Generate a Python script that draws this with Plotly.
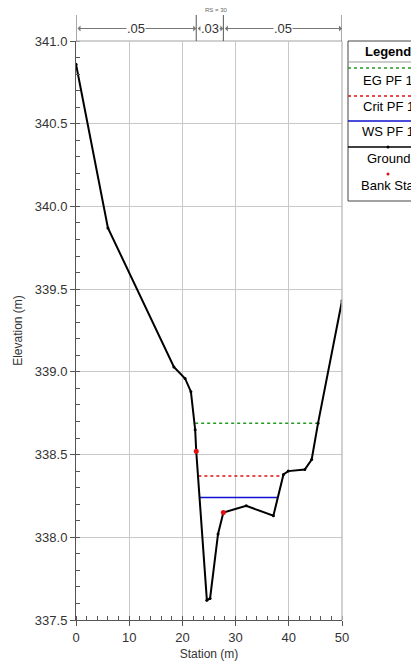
import plotly.graph_objs as go

# Ground profile (station m, elevation m)
ground_sta = [0, 6.0, 18.4, 20.5, 21.6, 22.4, 22.6, 24.6, 25.2, 26.7, 27.7,
              32.0, 37.1, 39.0, 39.9, 43.0, 44.3, 45.5, 50.0]
ground_elev = [340.86, 339.87, 339.03, 338.96, 338.88, 338.65, 338.52, 337.62,
               337.63, 338.02, 338.15, 338.19, 338.13, 338.38, 338.40, 338.41,
               338.47, 338.69, 339.43]

# Water surfaces
eg_sta = [22.4, 45.4]
eg_elev = [338.69, 338.69]
crit_sta = [23.0, 39.0]
crit_elev = [338.37, 338.37]
ws_sta = [23.3, 37.9]
ws_elev = [338.24, 338.24]

# Bank stations
bank_sta = [22.6, 27.7]
bank_elev = [338.52, 338.15]

# Manning's n regions
n_bounds = [0, 22.6, 27.7, 50]
n_labels = [".05", ".03", ".05"]

FONT = "Liberation Sans, Arial, sans-serif"
OFF = 8  # default page margin around the plot div
W, H = 419 - OFF, 670 - 2 * OFF
L, T = 76 - OFF, 41 - OFF
R = W - (342 - OFF)
B = H - (620 - OFF)
PW, PH = W - L - R, H - T - B


def px(xp):
    # screen x pixel -> paper coordinate
    return (xp - OFF - L) / PW


def py(yp):
    # screen y pixel -> paper coordinate
    return (T + PH - (yp - OFF)) / PH


GREEN = "#229a22"
RED = "#e01010"
BLUE = "#1010d0"

fig = go.Figure()

fig.add_trace(go.Scatter(x=eg_sta, y=eg_elev, mode="lines",
                         line=dict(color=GREEN, width=1.5, dash="dot")))
fig.add_trace(go.Scatter(x=crit_sta, y=crit_elev, mode="lines",
                         line=dict(color=RED, width=1.5, dash="dot")))
fig.add_trace(go.Scatter(x=ws_sta, y=ws_elev, mode="lines",
                         line=dict(color=BLUE, width=1.5)))
fig.add_trace(go.Scatter(x=ground_sta, y=ground_elev, mode="lines+markers",
                         line=dict(color="black", width=2),
                         marker=dict(color="black", size=3)))
fig.add_trace(go.Scatter(x=bank_sta, y=bank_elev, mode="markers",
                         marker=dict(color=RED, size=5)))

shapes = []
annotations = []

# frame top / right
shapes.append(dict(type="line", xref="paper", yref="paper", x0=0, x1=1, y0=1, y1=1,
                   line=dict(color="#c0c0c0", width=1.5)))
shapes.append(dict(type="line", xref="paper", yref="paper", x0=1, x1=1, y0=0, y1=1,
                   line=dict(color="#c0c0c0", width=1.5)))

# n-value boundaries above the plot
arrow_y = py(28.5)
for b in n_bounds:
    shapes.append(dict(type="line", xref="x", yref="paper", x0=b, x1=b,
                       y0=1, y1=py(15), line=dict(color="#555555", width=1)))
for i, lab in enumerate(n_labels):
    a, b = n_bounds[i], n_bounds[i + 1]
    annotations.append(dict(xref="x", yref="paper", axref="x", ayref="pixel",
                            x=b, y=arrow_y, ax=a, ay=0, text="",
                            showarrow=True, arrowside="end+start",
                            arrowhead=1, startarrowhead=1, arrowsize=1,
                            arrowwidth=1, arrowcolor="#777777",
                            standoff=0, startstandoff=0))
    annotations.append(dict(xref="x", yref="paper", x=(a + b) / 2, y=arrow_y,
                            text=lab, showarrow=False, bgcolor="white",
                            font=dict(family=FONT, size=13, color="#333333"),
                            borderpad=0, xanchor="center", yanchor="middle"))
annotations.append(dict(xref="x", yref="paper", x=26.4, y=py(10), text="RS = 30",
                        showarrow=False, xanchor="center", yanchor="middle",
                        font=dict(family=FONT, size=6, color="#666666")))

# custom legend
lx0, lx1, lxc = px(348), px(430), px(388)
shapes.append(dict(type="rect", xref="paper", yref="paper", x0=lx0, x1=lx1,
                   y0=py(201), y1=py(41), line=dict(color="#444444", width=1),
                   fillcolor="white"))
shapes.append(dict(type="line", xref="paper", yref="paper", x0=lx0, x1=lx1,
                   y0=py(62), y1=py(62), line=dict(color="#999999", width=1)))
annotations.append(dict(xref="paper", yref="paper", x=lxc, y=py(51), text="<b>Legend</b>",
                        showarrow=False, xanchor="center", yanchor="middle",
                        font=dict(family=FONT, size=13, color="black")))

leg = [("EG PF 1", GREEN, "dot", 68, 80),
       ("Crit PF 1", RED, "dot", 96, 106),
       ("WS PF 1", BLUE, "solid", 121, 131),
       ("Ground", "black", "solid", 147, 158)]
for name, col, dash, ly, ty in leg:
    shapes.append(dict(type="line", xref="paper", yref="paper", x0=lx0, x1=lx1,
                       y0=py(ly), y1=py(ly), line=dict(color=col, width=1.5, dash=dash)))
    annotations.append(dict(xref="paper", yref="paper", x=lxc, y=py(ty), text=name,
                            showarrow=False, xanchor="center", yanchor="middle",
                            font=dict(family=FONT, size=13, color="black")))
shapes.append(dict(type="circle", xref="paper", yref="paper",
                   x0=px(386.5), x1=px(389.5), y0=py(148.5), y1=py(145.5),
                   fillcolor="black", line=dict(width=0)))
shapes.append(dict(type="circle", xref="paper", yref="paper",
                   x0=px(386.5), x1=px(389.5), y0=py(175.5), y1=py(172.5),
                   fillcolor=RED, line=dict(width=0)))
annotations.append(dict(xref="paper", yref="paper", x=lxc, y=py(186), text="Bank Sta",
                        showarrow=False, xanchor="center", yanchor="middle",
                        font=dict(family=FONT, size=13, color="black")))

fig.update_layout(
    width=W, height=H,
    margin=dict(l=L, r=R, t=T, b=B),
    paper_bgcolor="white", plot_bgcolor="white",
    showlegend=False,
    font=dict(family=FONT, color="#333333"),
    shapes=shapes, annotations=annotations,
    xaxis=dict(range=[0, 50], dtick=10, showgrid=True, gridcolor="#c8c8c8",
               automargin=False,
               showline=True, linecolor="#555555", linewidth=1, zeroline=False,
               ticks="outside", ticklen=5, tickcolor="#555555",
               minor=dict(dtick=2, ticks="inside", ticklen=4, tickcolor="#555555"),
               tickfont=dict(size=13, color="#333333"),
               title=dict(text="Station (m)", font=dict(size=12, color="#333333"), standoff=6)),
    yaxis=dict(range=[337.5, 341.0], dtick=0.5, tickformat=".1f", showgrid=True,
               gridcolor="#c8c8c8", automargin=False,
               showline=True, linecolor="#555555", linewidth=1,
               zeroline=False, ticks="outside", ticklen=5, tickcolor="#555555",
               minor=dict(dtick=0.1, ticks="inside", ticklen=4, tickcolor="#555555"),
               tickfont=dict(size=13, color="#333333"),
               title=dict(text="Elevation (m)", font=dict(size=12, color="#333333"), standoff=9)),
)

fig.write_html("out.html")
